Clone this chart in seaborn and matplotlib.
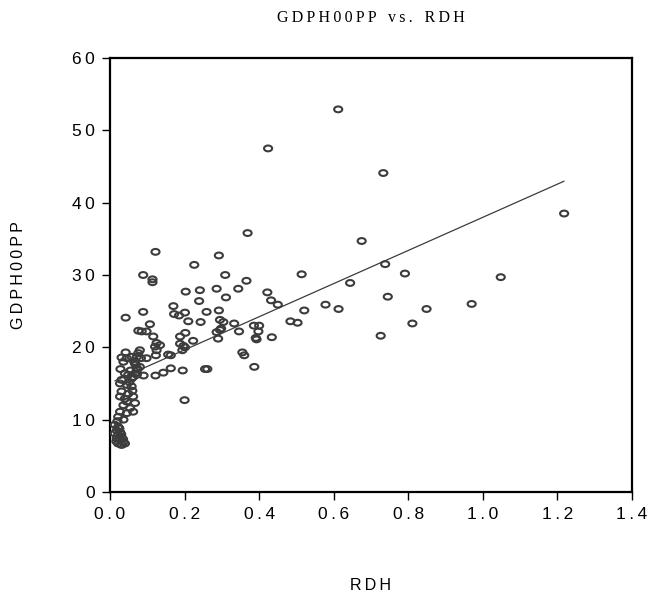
import numpy as np
import pandas as pd
import matplotlib
matplotlib.use("Agg")
import matplotlib.pyplot as plt
from matplotlib.path import Path
from matplotlib.transforms import Affine2D
from matplotlib.ticker import FuncFormatter
import seaborn as sns

# R&D intensity (RDH) and GDP per head in PPS (GDPH00PP), one entry per region
rdh = [
    0.612, 0.424, 0.733, 1.218, 0.675, 0.738, 0.791, 1.048, 0.644, 0.745,
    0.970, 0.849, 0.811, 0.726, 0.578, 0.613, 0.514, 0.521, 0.484, 0.503,
    0.369, 0.122, 0.292, 0.226,
    0.089, 0.114, 0.114, 0.309, 0.366, 0.203, 0.241, 0.286, 0.344, 0.422,
    0.239, 0.311, 0.432, 0.450, 0.170, 0.172, 0.185, 0.201, 0.259, 0.292,
    0.042, 0.089, 0.210, 0.243, 0.295, 0.304, 0.333, 0.386, 0.400, 0.107,
    0.298, 0.295, 0.286, 0.346, 0.398, 0.202, 0.188, 0.116, 0.290, 0.391,
    0.393, 0.434, 0.223, 0.188, 0.197, 0.201, 0.194, 0.125, 0.134, 0.121,
    0.125, 0.123, 0.156, 0.163, 0.355, 0.360, 0.163, 0.143, 0.122, 0.195,
    0.255, 0.261, 0.387, 0.200,
    0.076, 0.085, 0.098,
    0.031, 0.042, 0.045, 0.080, 0.076, 0.072, 0.083, 0.058, 0.065, 0.098,
    0.069, 0.074, 0.067, 0.062, 0.058, 0.090, 0.040,
    0.036, 0.067, 0.080, 0.072, 0.049, 0.031, 0.072, 0.045, 0.027, 0.058,
    0.031, 0.049, 0.062, 0.027, 0.045, 0.067, 0.036, 0.054, 0.062, 0.027,
    0.045, 0.022, 0.036,
    0.013, 0.022, 0.018, 0.027, 0.013, 0.022, 0.031, 0.018, 0.027, 0.036,
    0.022, 0.031, 0.040, 0.020, 0.025, 0.030, 0.017, 0.035,
    0.052, 0.060, 0.040, 0.028, 0.055,
]
gdph00pp = [
    52.9, 47.5, 44.1, 38.5, 34.7, 31.5, 30.2, 29.7, 28.9, 27.0,
    26.0, 25.3, 23.3, 21.6, 25.9, 25.3, 30.1, 25.1, 23.6, 23.4,
    35.8, 33.2, 32.7, 31.4,
    30.0, 29.4, 29.0, 30.0, 29.2, 27.7, 27.9, 28.1, 28.1, 27.6,
    26.4, 26.9, 26.5, 25.9, 25.7, 24.6, 24.4, 24.8, 24.9, 25.1,
    24.1, 24.9, 23.6, 23.5, 23.8, 23.5, 23.3, 23.0, 23.0, 23.2,
    22.6, 22.4, 22.1, 22.2, 22.2, 22.0, 21.5, 21.5, 21.2, 21.3,
    21.1, 21.4, 20.9, 20.5, 20.2, 20.0, 19.6, 20.6, 20.3, 20.1,
    19.6, 18.9, 19.0, 18.9, 19.3, 18.9, 17.1, 16.5, 16.1, 16.8,
    17.0, 17.0, 17.3, 12.7,
    22.3, 22.2, 22.2,
    18.6, 19.3, 18.5, 19.6, 19.2, 18.7, 18.5, 18.7, 18.0, 18.5,
    17.6, 17.0, 16.4, 15.9, 15.7, 16.1, 16.4,
    18.0, 17.8, 17.3, 16.9, 16.2, 15.5, 16.2, 14.8, 15.0, 14.6,
    13.9, 13.6, 13.2, 13.2, 12.5, 12.3, 12.0, 11.6, 11.1, 11.1,
    10.9, 10.4, 10.0,
    9.3, 9.0, 8.5, 8.3, 8.1, 7.9, 7.6, 7.4, 7.2, 6.9,
    6.7, 6.5, 6.7, 9.8, 8.8, 8.0, 7.0, 7.3,
    15.2, 14.0, 12.9, 17.0, 16.8,
]
x_ticks = [0.0, 0.2, 0.4, 0.6, 0.8, 1.0, 1.2, 1.4]
y_ticks = [0, 10, 20, 30, 40, 50, 60]

df = pd.DataFrame({"RDH": rdh, "GDPH00PP": gdph00pp})

sns.set_theme(style="white")
plt.rcParams["font.family"] = ["Liberation Sans", "DejaVu Sans"]

THIN = "\u2009"


def spaced(s):
    return THIN.join(s)


fig = plt.figure(figsize=(6.48, 5.98), dpi=100)
ax = fig.add_axes([110 / 648, 1 - 492 / 598, (632 - 110) / 648, (492 - 58) / 598])

# slightly flattened open circle marker
ellipse = Path.unit_circle().transformed(Affine2D().scale(1.0, 0.72))

ink = "#3c3c3c"
sns.scatterplot(data=df, x="RDH", y="GDPH00PP", ax=ax, marker=ellipse,
                s=34, facecolor="none", edgecolor=ink, linewidth=1.5,
                legend=False, zorder=3)
sns.regplot(data=df, x="RDH", y="GDPH00PP", ax=ax, scatter=False, ci=None,
            truncate=True, line_kws={"color": ink, "linewidth": 0.9})

ax.set_xlim(x_ticks[0], x_ticks[-1])
ax.set_ylim(y_ticks[0], y_ticks[-1])
ax.set_xticks(x_ticks)
ax.set_yticks(y_ticks)
ax.xaxis.set_major_formatter(FuncFormatter(lambda v, p: spaced(f"{v:.1f}")))
ax.yaxis.set_major_formatter(FuncFormatter(lambda v, p: spaced(f"{v:.0f}")))

for side in ["left", "right", "top", "bottom"]:
    ax.spines[side].set_visible(True)
    ax.spines[side].set_color("black")
    ax.spines[side].set_linewidth(1.6)

ax.tick_params(axis="both", which="major", direction="out", length=6,
               width=1.0, color="black", labelsize=12.5, labelcolor="black",
               bottom=True, left=True, top=False, right=False, pad=5)
ax.grid(False)

ax.set_xlabel(spaced("RDH"), fontsize=11.5, labelpad=40, color="black")
ax.set_ylabel(spaced("GDPH00PP"), fontsize=11.5, labelpad=33, color="black")

title = "   ".join(spaced(w) for w in ["GDPH00PP", "vs.", "RDH"])
fig.text(371 / 648, 1 - 18 / 598, title, ha="center", va="center",
         fontsize=11.5, family=["Liberation Serif", "DejaVu Serif"],
         color="black")

fig.savefig("out.png", dpi=100, facecolor="white")
